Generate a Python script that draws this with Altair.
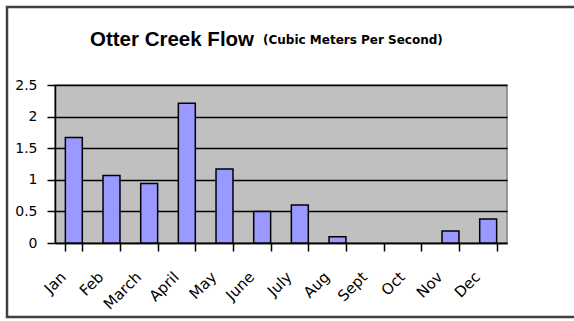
import altair as alt
import pandas as pd

months = ["Jan", "Feb", "March", "April", "May", "June", "July", "Aug", "Sept", "Oct", "Nov", "Dec"]
flow = [1.67, 1.07, 0.94, 2.21, 1.17, 0.50, 0.60, 0.10, 0.0, 0.0, 0.19, 0.38]
y_ticks = [0, 0.5, 1, 1.5, 2, 2.5]
title_text = "Otter Creek Flow"
subtitle_text = "(Cubic Meters Per Second)"

df = pd.DataFrame({"month": months, "flow": flow})
one = pd.DataFrame({"k": [0]})

FONT = "Liberation Sans"
WIDE = "DejaVu Sans"

x_enc = alt.X(
    "month:N", sort=months,
    scale=alt.Scale(paddingInner=0.55, paddingOuter=0.275),
    axis=alt.Axis(
        title=None, labelAngle=-45, labelAlign="right", labelBaseline="middle",
        labelFontSize=15, labelFont=WIDE, labelColor="black",
        labelPadding=23, labelOffset=-11,
        tickBand="extent", tickSize=8, tickColor="black", tickWidth=1.5,
        domainColor="black", domainWidth=1.5, grid=False, labelOverlap=False,
    ),
)
y_enc = alt.Y(
    "flow:Q",
    scale=alt.Scale(domain=[0, 2.5], nice=False),
    axis=alt.Axis(
        title=None, values=y_ticks, format="~g", labelFontSize=14, labelFont=WIDE,
        labelColor="black", labelPadding=10, tickSize=8, tickColor="black",
        tickWidth=1.5, domainColor="black", domainWidth=1.5,
        grid=True, gridColor="black", gridWidth=1.5,
    ),
)

bars = alt.Chart(df).mark_bar(
    color="#9999FF", stroke="black", strokeWidth=1.5
).encode(
    x=x_enc, y=y_enc,
    strokeOpacity=alt.condition("datum.flow > 0", alt.value(1), alt.value(0)),
)

frame = alt.Chart(one).mark_rect(
    fill="white", fillOpacity=0, stroke="#404040", strokeWidth=2.5, clip=False
).encode(
    x=alt.value(-48), x2=alt.value(540), y=alt.value(-78), y2=alt.value(232)
)

title = alt.Chart(one).mark_text(
    text=title_text, font=FONT, fontSize=20.5, fontWeight="bold",
    align="left", baseline="alphabetic", color="black", clip=False
).encode(x=alt.value(35), y=alt.value(-39))

subtitle = alt.Chart(one).mark_text(
    text=subtitle_text, font=WIDE, fontSize=12, fontWeight="bold",
    align="left", baseline="alphabetic", color="black", clip=False
).encode(x=alt.value(208), y=alt.value(-41))

chart = alt.layer(frame, bars, title, subtitle).properties(
    width=452, height=158,
    autosize=alt.AutoSizeParams(type="none"),
    padding={"left": 55, "top": 85, "right": 67, "bottom": 78},
    background="white",
).configure_view(
    fill="#C0C0C0", stroke="#808080", strokeWidth=1.5
)

chart.save("out.html", embed_options={"renderer": "svg", "actions": False})
